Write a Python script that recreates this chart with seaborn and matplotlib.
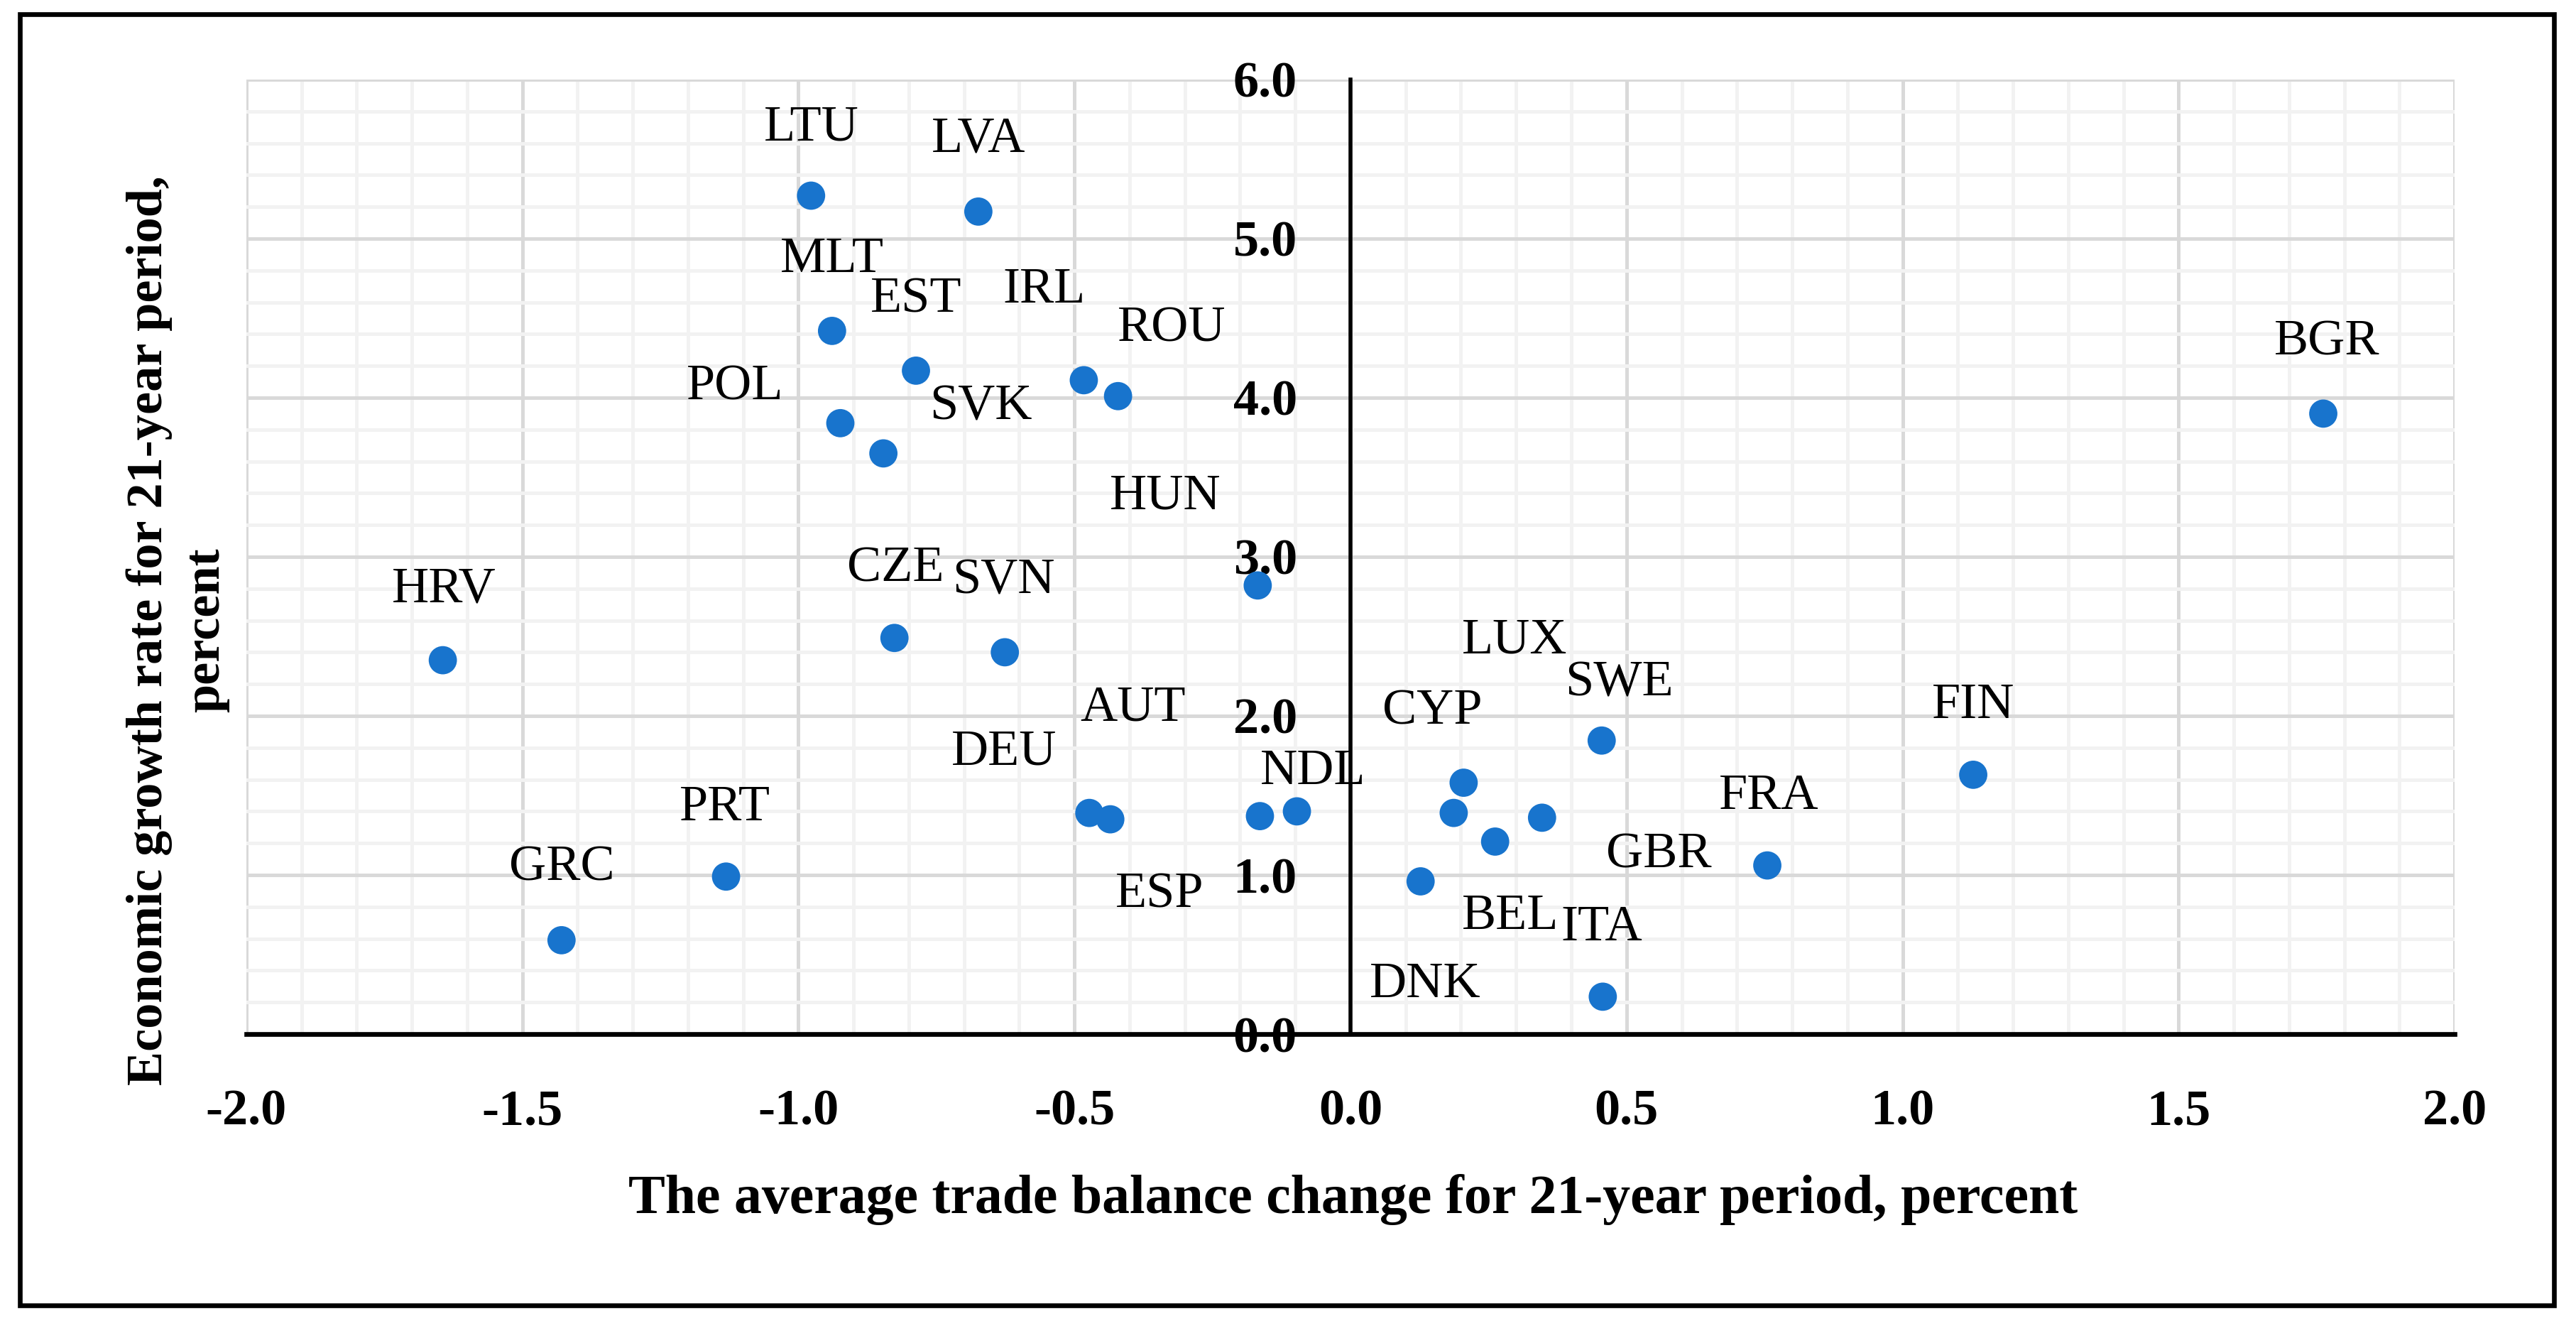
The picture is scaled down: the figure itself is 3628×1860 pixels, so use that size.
"""
Scatter of trade balance change vs economic growth for EU countries (21-year period).
"""
import pandas as pd
import seaborn as sns
import matplotlib.pyplot as plt
from matplotlib.patches import Rectangle
from matplotlib.ticker import MultipleLocator

# Data
countries = ["LTU", "LVA", "MLT", "EST", "IRL", "ROU", "POL", "SVK", "HUN", "HRV",
             "CZE", "SVN", "DEU", "AUT", "ESP", "NDL", "CYP", "LUX", "BEL", "GBR",
             "DNK", "ITA", "SWE", "FRA", "FIN", "BGR", "PRT", "GRC"]
trade_balance = [-0.977, -0.674, -0.939, -0.787, -0.483, -0.421, -0.924, -0.846, -0.168, -1.644,
                 -0.826, -0.626, -0.473, -0.435, -0.164, -0.097, 0.205, 0.187, 0.262, 0.347,
                 0.127, 0.457, 0.455, 0.755, 1.128, 1.762, -1.131, -1.429]
growth = [5.27, 5.17, 4.42, 4.17, 4.11, 4.01, 3.84, 3.65, 2.82, 2.35,
          2.49, 2.40, 1.39, 1.35, 1.37, 1.40, 1.58, 1.39, 1.21, 1.36,
          0.96, 0.235, 1.845, 1.06, 1.63, 3.90, 0.99, 0.59]

x_ticks = [-2.0, -1.5, -1.0, -0.5, 0.0, 0.5, 1.0, 1.5, 2.0]
y_ticks = [0, 1, 2, 3, 4, 5, 6]

# Label placement (offset from point, in output pixels; right/up positive)
label_offsets = [(0, 95), (0, 102), (0, 100), (0, 100), (-56, 127), (76, 95), (-148, 51), (137, 65),
                 (-130, 125), (2, 100), (2, 97), (-2, 100), (-120, 86), (32, 157), (-141, -111),
                 (23, 56), (-44, 100), (86, 243), (21, -106), (164, -53), (7, -146), (-2, 97),
                 (25, 81), (2, 97), (0, 97), (5, 100), (-2, 97), (0, 102)]

df = pd.DataFrame({"country": countries, "trade": trade_balance, "growth": growth})

sns.set_style("white")
plt.rcParams["font.family"] = ["Liberation Serif", "DejaVu Serif"]
plt.rcParams["text.color"] = "black"
plt.rcParams["axes.labelcolor"] = "black"
plt.rcParams["axes.edgecolor"] = "black"
plt.rcParams["xtick.color"] = "black"
plt.rcParams["ytick.color"] = "black"

DPI = 200
fig = plt.figure(figsize=(3628 / DPI, 1860 / DPI), dpi=DPI)
ax = fig.add_axes([0.0956, 0.2172, 0.8573, 0.7226])

sns.scatterplot(data=df, x="trade", y="growth", ax=ax, s=205, color="#1874CD",
                edgecolor="none", zorder=3)

ax.set_xlim(-2, 2)
ax.set_ylim(0, 6)
ax.set_xticks(x_ticks)
ax.set_yticks(y_ticks)
ax.xaxis.set_minor_locator(MultipleLocator(0.1))
ax.yaxis.set_minor_locator(MultipleLocator(0.2))
ax.set_xticklabels([f"{v:.1f}" for v in x_ticks])
ax.set_yticklabels([f"{v:.1f}" for v in y_ticks])

# grid
ax.grid(which="major", color="#d9d9d9", linewidth=1.8, zorder=0)
ax.grid(which="minor", color="#f2f2f2", linewidth=1.8, zorder=0)
ax.set_axisbelow(True)

# spines: y axis crossing at x = 0
for side in ["top", "right"]:
    ax.spines[side].set_visible(False)
ax.spines["left"].set_position(("data", 0))
ax.spines["left"].set_linewidth(2.0)
ax.spines["left"].set_zorder(2)
ax.spines["bottom"].set_linewidth(2.4)

ax.tick_params(axis="x", which="major", direction="out", length=9, width=2.0,
               pad=19, labelsize=26)
ax.tick_params(axis="y", which="major", direction="out", length=9, width=2.0,
               pad=18, labelsize=26)
ax.tick_params(which="minor", length=0)
for lab in ax.get_xticklabels() + ax.get_yticklabels():
    lab.set_fontweight("bold")

ax.set_xlabel("The average trade balance change for 21-year period, percent",
              fontsize=28, fontweight="bold")
ax.xaxis.set_label_coords(0.501, -0.173)
ax.xaxis.label.set_va("center")
ax.set_ylabel("Economic growth rate for 21-year period,\npercent",
              fontsize=26, fontweight="bold", multialignment="center", linespacing=1.3)
ax.yaxis.set_label_coords(-0.031, 0.423)
ax.yaxis.label.set_va("center")

# country labels
for name, xv, yv, off in zip(countries, trade_balance, growth, label_offsets):
    ax.annotate(name, (xv, yv), xytext=off, textcoords="offset pixels",
                ha="center", va="center", fontsize=26, zorder=4)

# outer frame
fig.patches.append(Rectangle((0.0077, 0.0118), 0.9838, 0.9774, transform=fig.transFigure,
                             fill=False, edgecolor="black", linewidth=2.4))

fig.savefig("out.png", dpi=DPI, facecolor="white")
